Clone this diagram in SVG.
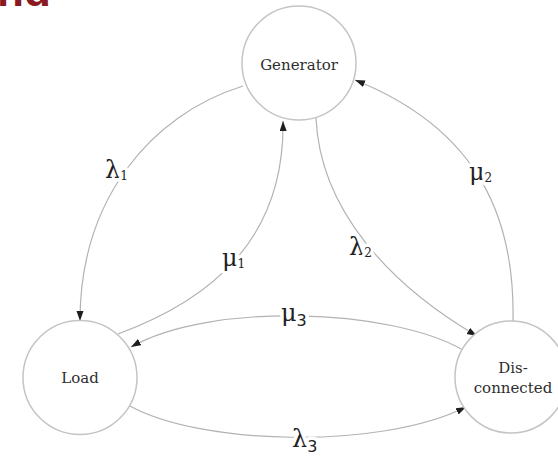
<svg xmlns="http://www.w3.org/2000/svg" width="558" height="456" viewBox="0 0 558 456">
  <style>
    .node circle { fill: #ffffff; stroke: #c4c4c4; stroke-width: 1.5; }
    .node text { font-family: "DejaVu Serif", "Liberation Serif", serif; font-size: 15px; fill: #2e2e2e; text-anchor: middle; }
    .edge { fill: none; stroke: #b2b2b2; stroke-width: 1.2; marker-end: url(#arrow); }
    .rate { font-family: "DejaVu Serif", "Liberation Serif", serif; font-size: 24px; fill: #222222; stroke: #ffffff; stroke-width: 7px; paint-order: stroke; stroke-linejoin: round; }
    .sub { font-size: 12px; }
    .sub3 { font-family: "DejaVu Sans", "Liberation Sans", sans-serif; font-size: 16px; }
    .heading { font-family: "Liberation Sans", Arial, sans-serif; font-weight: bold; font-size: 44px; fill: #8b1a1f; }
  </style>
  <defs>
    <marker id="arrow" markerUnits="userSpaceOnUse" markerWidth="10" markerHeight="8" refX="10" refY="3.5" orient="auto">
      <path d="M0,0 L10,3.5 L0,7 Z" fill="#1e1e1e"/>
    </marker>
  </defs>
  <rect width="558" height="456" fill="#ffffff"/>

  <!-- clipped heading above the drawing -->
  <text class="heading" x="-3" y="6">nd</text>

  <!-- transitions between the three states -->
  <g id="connectors">
    <path class="edge" d="M243,86 C150,115 80,200 80,321"/>
    <path class="edge" d="M118,334 C210,300 285,240 283,121"/>
    <path class="edge" d="M316,118 C320,210 390,285 477,336"/>
    <path class="edge" d="M513,321 C515,220 480,130 355,80"/>
    <path class="edge" d="M463,350 C390,308 210,302 131,347"/>
    <path class="edge" d="M130,406 C200,445 380,450 466,407"/>
  </g>

  <!-- transition rates -->
  <g id="labels">
    <text class="rate" x="105" y="178">λ<tspan class="sub" dy="2">1</tspan></text>
    <text class="rate" x="222" y="266">μ<tspan class="sub" dy="2">1</tspan></text>
    <text class="rate" x="349" y="255">λ<tspan class="sub" dy="2">2</tspan></text>
    <text class="rate" x="469" y="180">μ<tspan class="sub" dy="2">2</tspan></text>
    <text class="rate" x="281" y="321">μ<tspan class="sub3" dy="5">3</tspan></text>
    <text class="rate" x="292" y="447">λ<tspan class="sub3" dy="5">3</tspan></text>
  </g>

  <g id="generator" class="node">
    <circle cx="299" cy="63" r="57"/>
    <text x="299" y="70">Generator</text>
  </g>
  <g id="load" class="node">
    <circle cx="80" cy="377.5" r="57"/>
    <text x="80" y="383">Load</text>
  </g>
  <g id="disconnected" class="node">
    <circle cx="511" cy="377" r="56"/>
    <text x="513" y="373">Dis-</text>
    <text x="513" y="393">connected</text>
  </g>
</svg>
